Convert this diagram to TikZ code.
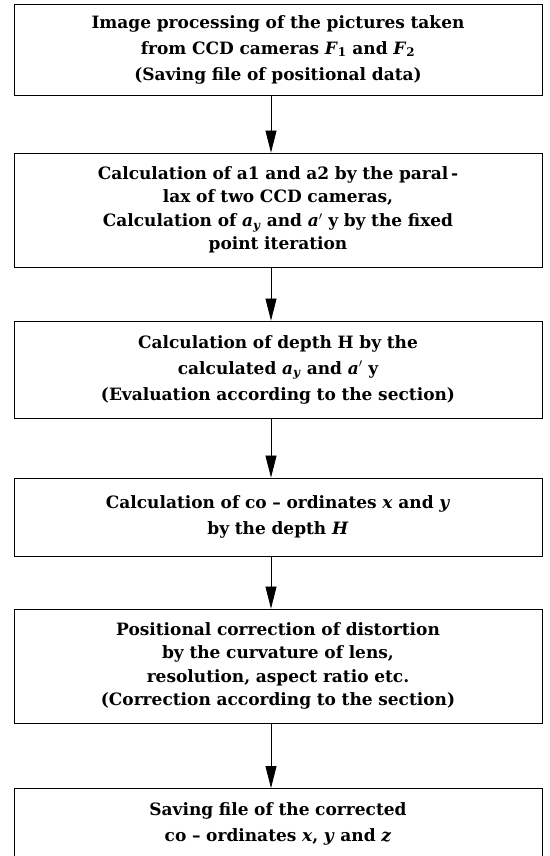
\documentclass[tikz,border=0pt]{standalone}
\usepackage{fontspec}
\setmainfont{DejaVu Serif}
\usetikzlibrary{arrows.meta}
\newcommand{\vi}[1]{\textit{#1}}
\newcommand{\vsub}[2]{\textit{#1}\textsubscript{#2}}
\begin{document}
\begin{tikzpicture}[x=1pt,y=1pt,
  stepbox/.style={draw,line width=0.9pt,minimum width=528pt,text width=510pt,align=center,inner sep=0pt,
    font=\fontsize{17}{26}\selectfont\bfseries},
  tallbox/.style={stepbox,font=\fontsize{17}{23.5}\selectfont\bfseries},
  flow/.style={line width=0.8pt,-{Triangle[length=22pt,width=11pt]}}]
\useasboundingbox (0,0) rectangle (549,-856);
\clip (0,0) rectangle (549,-856);
\node[stepbox,minimum height=91pt] (b1) at (278,-49.5) {Image processing of the pictures taken\\from CCD cameras \vsub{F}{1} and \vsub{F}{2}\\(Saving file of positional data)};
\node[tallbox,minimum height=114pt] (b2) at (278,-210) {Calculation of a1 and a2 by the paral\,-\\lax of two CCD cameras,\\Calculation of \vsub{a}{\textit{y}} and \vi{a}$'$ y by the fixed\\point iteration};
\node[stepbox,minimum height=97pt] (b3) at (278,-369.5) {Calculation of depth H by the\\calculated \vsub{a}{\textit{y}} and \vi{a}$'$ y\\(Evaluation according to the section)};
\node[stepbox,minimum height=78pt] (b4) at (278,-517) {Calculation of co – ordinates \vi{x} and \vi{y}\\by the depth \vi{H}};
\node[tallbox,minimum height=114pt] (b5) at (278,-666) {Positional correction of distortion\\by the curvature of lens,\\resolution, aspect ratio etc.\\(Correction according to the section)};
\node[stepbox,minimum height=100pt,anchor=north] (b6) at (278,-788) {Saving file of the corrected\\co – ordinates \vi{x}, \vi{y} and \vi{z}\\ \strut};
\foreach \a/\b in {b1/b2,b2/b3,b3/b4,b4/b5,b5/b6}
  \draw[flow] (\a.south -| 271,0) -- (\b.north -| 271,0);
\end{tikzpicture}
\end{document}
